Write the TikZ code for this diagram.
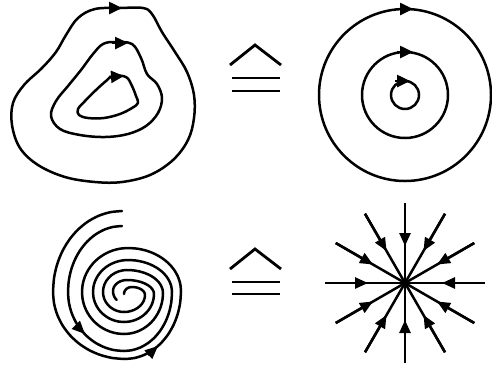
\documentclass[tikz,border=0pt]{standalone}
\usetikzlibrary{arrows.meta}
% quarter elliptic arcs between cardinal points (screen coordinates, y down)
\newcommand\qTL[4]{-- plot[smooth,domain=90:180,samples=10] ({#1+(#1-#3)*cos(\x)},{#4-(#4-#2)*sin(\x)})}
\newcommand\qLB[4]{-- plot[smooth,domain=180:270,samples=10] ({#3+(#3-#1)*cos(\x)},{#2-(#4-#2)*sin(\x)})}
\newcommand\qBR[4]{-- plot[smooth,domain=270:360,samples=10] ({#1+(#3-#1)*cos(\x)},{#4-(#2-#4)*sin(\x)})}
\newcommand\qRT[4]{-- plot[smooth,domain=0:90,samples=10] ({#3+(#1-#3)*cos(\x)},{#2-(#2-#4)*sin(\x)})}
\begin{document}
\begin{tikzpicture}[x=1pt,y=-1pt,
  curve/.style={line width=2.5pt,line join=round,line cap=round},
  arr/.style={line width=2.5pt,-{Triangle[length=13pt,width=12pt]}},
  sarr/.style={line width=2.5pt,-{Triangle[length=13pt,width=11pt]}},
  eqs/.style={line width=2.8pt}]
\useasboundingbox (0,0) rectangle (492,365);

% ---- top-left closed orbits
\draw[curve] plot[smooth cycle,tension=0.6] coordinates {(95,9) (120,8) (143,8) (152,14) (162,32) (175,52) (187,72) (194,95) (194,118) (188,140) (173,160) (150,175) (122,182) (95,182) (65,177) (38,165) (20,148) (12,125) (13,103) (24,85) (42,68) (56,52) (66,35) (78,18)};
\draw[curve] plot[smooth cycle,tension=0.6] coordinates {(115,42) (132,44) (141,58) (147,74) (157,84) (162,98) (158,113) (146,126) (128,134) (105,137) (80,135) (60,129) (51,116) (56,101) (68,86) (81,70) (93,54) (103,44)};
\draw[curve] plot[smooth cycle,tension=0.6] coordinates {(113,76) (126,77) (132,86) (136,96) (138,103) (132,108) (120,114) (104,118) (88,118) (79,115) (78,109) (85,101) (96,90) (106,81)};
\draw[arr] (106,8) -- (122,8);
\draw[arr] (112,43) -- (128,43);
\draw[arr] (109,77) -- (124,76);

% ---- top-right concentric circles
\coordinate (cc) at (405,95);
\draw[curve] (cc) circle[radius=86];
\draw[curve] (cc) circle[radius=43];
\draw[curve] (cc) circle[radius=14];
\draw[arr] (397,9) -- (413,9);
\draw[arr] (397,52) -- (413,52);
\draw[arr] (395,81) -- (410,81);

% ---- equivalence symbols
\draw[eqs,line join=miter] (230,65) -- (255,45) -- (281,65);
\draw[eqs] (232,78) -- (280,78);
\draw[eqs] (232,91) -- (280,91);
\draw[eqs,line join=miter] (230,269) -- (255,249) -- (281,269);
\draw[eqs] (232,282) -- (280,282);
\draw[eqs] (232,294) -- (280,294);

% ---- bottom-left spiral (two arms)
\draw[curve] (122,211)
  \qTL{122}{211}{53}{292} \qLB{53}{292}{125}{359} \qBR{125}{359}{181}{291} \qRT{181}{291}{128}{248}
  \qTL{128}{248}{82}{292} \qLB{82}{292}{124}{334} \qBR{124}{334}{163}{293} \qRT{163}{293}{127}{270}
  \qTL{127}{270}{103}{292} \qLB{103}{292}{124}{312} \qBR{124}{312}{145}{295} \qRT{145}{295}{132}{287}
  \qTL{132}{287}{124}{294};
\draw[curve] (122,226)
  \qTL{122}{226}{68}{292} \qLB{68}{292}{124}{351} \qBR{124}{351}{172}{292} \qRT{172}{292}{128}{260}
  \qTL{128}{260}{93}{292} \qLB{93}{292}{124}{322} \qBR{124}{322}{154}{294} \qRT{154}{294}{127}{280}
  \qTL{127}{280}{113}{291}
  -- plot[smooth,domain=180:228,samples=6] ({124+(124-113)*cos(\x)},{291-(303-291)*sin(\x)});
\draw[sarr] (148,355) -- (158,346);
\draw[sarr] (76,325) -- (85,334);

% ---- bottom-right star (stable node)
\coordinate (sc) at (405,283);
\foreach \a in {0,30,...,330}{
  \draw[line width=2.5pt,shift={(sc)}] (\a:80) -- (0,0);
  \draw[sarr,shift={(sc)}] (\a:80) -- (\a:37);
}
\end{tikzpicture}
\end{document}
